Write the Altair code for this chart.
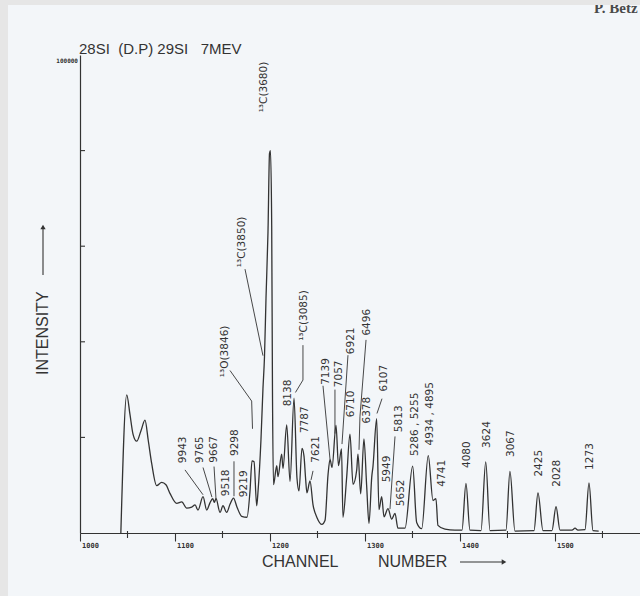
import altair as alt
import pandas as pd

# 28Si(d,p)29Si proton spectrum, 7 MeV: channel vs. counts
channel = [
    1043.0, 1049.2, 1052.6, 1055.8, 1059.7, 1064.2, 1068.4, 1071.9, 1075.5, 1080.7,
    1086.0, 1090.5, 1094.7, 1101.8, 1107.1, 1112.3, 1117.6, 1121.1, 1124.2, 1129.5,
    1133.4, 1136.8, 1139.7, 1141.4, 1143.2, 1147.4, 1150.5, 1154.4, 1157.9, 1161.6,
    1165.3, 1170.2, 1175.8, 1178.9, 1181.1, 1183.2, 1186.0, 1187.4, 1190.5, 1192.6,
    1194.2, 1195.8, 1197.9, 1199.5, 1200.5, 1201.8, 1202.6, 1203.7, 1207.1, 1208.4,
    1212.3, 1213.7, 1217.6, 1221.1, 1225.3, 1228.4, 1230.5, 1233.7, 1235.8, 1237.4,
    1238.9, 1242.1, 1245.3, 1249.5, 1254.7, 1257.9, 1261.1, 1263.2, 1265.3, 1269.5,
    1272.1, 1275.3, 1276.8, 1280.7, 1284.2, 1287.4, 1291.3, 1292.6, 1295.5, 1298.9,
    1301.8, 1304.2, 1307.1, 1308.4, 1312.3, 1314.7, 1317.6, 1320.0, 1324.2, 1328.1,
    1331.6, 1334.7, 1342.1, 1350.2, 1354.4, 1359.7, 1366.6, 1371.6, 1374.7, 1376.8,
    1384.2, 1394.7, 1402.1, 1406.3, 1410.5, 1422.1, 1427.1, 1431.6, 1448.4, 1452.6,
    1457.9, 1477.9, 1482.1, 1487.4, 1496.8, 1501.1, 1505.3, 1517.9, 1521.1, 1524.2,
    1531.6, 1535.8, 1540.0, 1546.0,
]
counts = [
    0, 28900, 24800, 20700, 19200, 21400, 23600, 19300, 14500, 9900,
    10600, 10100, 8300, 6200, 6500, 5200, 5400, 5900, 4800, 7600,
    4800, 6300, 7200, 6400, 7200, 4300, 5700, 4300, 6000, 7300,
    5400, 3500, 3300, 8600, 15100, 14900, 5700, 8700, 19500, 30200,
    36800, 49100, 63000, 79400, 80000, 64300, 30200, 10100, 14100, 11800,
    16500, 13500, 22600, 10800, 28200, 11500, 8800, 17700, 16100, 11600,
    8400, 10900, 5900, 3200, 1800, 2600, 12200, 15400, 13700, 22500,
    14100, 17600, 3300, 11600, 20700, 10200, 13200, 16500, 8200, 19700,
    9700, 2000, 11700, 13900, 23900, 4900, 7600, 3400, 5100, 2900,
    4100, 1000, 1000, 14000, 2200, 900, 16200, 6800, 7200, 1600,
    800, 600, 600, 10400, 600, 500, 14900, 500, 600, 12900,
    400, 500, 8400, 500, 500, 5500, 600, 600, 1000, 600,
    700, 10500, 500, 400,
]

# Peak annotations (excitation energies in keV, contaminant lines)
label_text = [
    "9943", "9765", "9667", "9518", "9298", "9219", "¹³O(3846)", "¹³C(3850)",
    "¹³C(3680)", "8138", "¹³C(3085)", "7787", "7621", "7139", "7057", "6921",
    "6710", "6496", "6378", "6107", "5949", "5813", "5652", "5286 , 5255",
    "4934 , 4895", "4741", "4080", "3624", "3067", "2425", "2028", "1273",
]
label_channel = [
    1108.4, 1126.3, 1141.1, 1153.7, 1163.2, 1172.6, 1152.6, 1170.5,
    1193.7, 1218.9, 1235.8, 1236.8, 1248.4, 1258.9, 1272.6, 1285.3,
    1285.3, 1302.1, 1302.1, 1320.0, 1323.2, 1335.8, 1337.9, 1352.6,
    1368.4, 1381.1, 1407.4, 1428.4, 1453.7, 1483.2, 1502.1, 1536.8,
]
label_counts = [
    14600, 14600, 14700, 7700, 16100, 7500, 32600, 55600,
    88000, 26500, 40200, 20900, 14700, 31000, 30500, 37400,
    24200, 41300, 22900, 29600, 10600, 21100, 5600, 16100,
    18300, 9700, 13600, 17800, 15900, 11800, 9700, 13200,
]

# Leader lines from labels down to their peaks
lead_ch_from = [1110.5, 1129.5, 1141.1, 1162.1, 1157.9, 1180.7, 1173.7, 1234.7,
                1234.7, 1245.3, 1255.8, 1268.4, 1282.1, 1301.1, 1294.7, 1317.9, 1331.6]
lead_counts_from = [13200, 13700, 13900, 15000, 34000, 27600, 55200, 39300,
                    32000, 13000, 30800, 30000, 37200, 40400, 24300, 28100, 20200]
lead_ch_to = [1129.5, 1138.9, 1143.2, 1162.1, 1180.7, 1181.6, 1192.6, 1234.7,
              1226.8, 1243.2, 1263.2, 1268.4, 1275.8, 1294.7, 1293.7, 1312.6, 1326.3]
lead_counts_to = [8000, 7500, 7000, 7700, 27600, 21800, 37100, 32000,
                  29400, 11100, 15400, 20800, 18600, 24300, 17400, 25000, 5000]

major_ticks = [1000, 1100, 1200, 1300, 1400, 1500]
minor_ticks = [1050, 1150, 1250, 1350, 1450, 1550]
y_ticks = [20000, 40000, 60000, 80000]
y_top = [100000]

NB = "\u00a0"  # keeps the wide gaps of the plotter lettering
TITLE = "28SI" + NB * 2 + "(D.P)" + NB + "29SI" + NB * 3 + "7MEV"

W, H = 560, 478
INK = "#333333"
PAPER = "#f3f6f9"
BORDER = "#e6e6e6"
LABEL_FONT = "DejaVu Sans"
TICK_FONT = "DejaVu Sans Mono"
TITLE_FONT = "Liberation Sans"

xs = alt.Scale(domain=[1000, 1589.5], nice=False, zero=False)
ys = alt.Scale(domain=[0, 100000], nice=False)
x_axis = alt.Axis(values=major_ticks, tickSize=8, labels=False, title=None, grid=False,
                  domainColor=INK, tickColor=INK, domainWidth=1.2, tickWidth=1.1, zindex=1)
y_axis = alt.Axis(labels=False, ticks=False, title=None, grid=False,
                  domainColor=INK, domainWidth=1.2, zindex=1)


def X(field):
    return alt.X(field, type="quantitative", scale=xs, axis=x_axis)


def Y(field):
    return alt.Y(field, type="quantitative", scale=ys, axis=y_axis)


one = alt.Data(values=[{"k": 0}])

spectrum = pd.DataFrame({"channel": channel, "counts": counts})
labels = pd.DataFrame({"text": label_text, "ch": label_channel, "c": label_counts})
leaders = pd.DataFrame({"ch1": lead_ch_from, "c1": lead_counts_from,
                        "ch2": lead_ch_to, "c2": lead_counts_to})

paper = alt.Chart(one).mark_rect(color=PAPER).encode(
    x=alt.value(-72), x2=alt.value(W), y=alt.value(-51), y2=alt.value(H + 63))

line = alt.Chart(spectrum).mark_line(color=INK, strokeWidth=1.3, interpolate="monotone").encode(
    x=X("channel"), y=Y("counts"), order="channel:Q")

leader = alt.Chart(leaders).mark_rule(color=INK, strokeWidth=0.9).encode(
    x=X("ch1"), x2="ch2", y=Y("c1"), y2="c2")

peak_labels = alt.Chart(labels).mark_text(
    angle=270, align="left", baseline="middle", font=LABEL_FONT, fontSize=10.5, color=INK
).encode(x=X("ch"), y=Y("c"), text="text:N")

y_tick_marks = alt.Chart(pd.DataFrame({"v": y_ticks})).mark_rule(color=INK, strokeWidth=1.1).encode(
    y=Y("v"), x=alt.value(0), x2=alt.value(5))

x_minor = alt.Chart(pd.DataFrame({"v": minor_ticks})).mark_rule(color=INK, strokeWidth=1.1).encode(
    x=X("v"), y=alt.value(H - 2), y2=alt.value(H + 5))

x_tick_labels = alt.Chart(pd.DataFrame({"v": major_ticks})).mark_text(
    align="left", baseline="alphabetic", dx=2, font=TICK_FONT, fontWeight="bold",
    fontSize=7, color=INK
).encode(x=X("v"), y=alt.value(H + 15), text=alt.Text("v:Q", format="d"))

y_top_label = alt.Chart(pd.DataFrame({"v": y_top})).mark_text(
    align="right", baseline="middle", dx=-2, dy=6, font=TICK_FONT, fontWeight="bold",
    fontSize=6, color=INK
).encode(y=Y("v"), x=alt.value(0), text=alt.Text("v:Q", format="d"))

title = alt.Chart(one).mark_text(
    align="left", baseline="alphabetic", font=TITLE_FONT, fontSize=15, color=INK
).encode(x=alt.value(-1), y=alt.value(-1), text=alt.value(TITLE))

y_title = alt.Chart(one).mark_text(
    angle=270, align="left", baseline="middle", font=TITLE_FONT, fontSize=16, color=INK
).encode(x=alt.value(-37), y=alt.value(320), text=alt.value("INTENSITY"))

y_arrow = alt.Chart(one).mark_rule(color=INK, strokeWidth=1.1).encode(
    x=alt.value(-37), y=alt.value(220), y2=alt.value(172))
y_head = alt.Chart(one).mark_point(shape="triangle-up", filled=True, size=28, color=INK, opacity=1).encode(
    x=alt.value(-37), y=alt.value(172))

x_title_a = alt.Chart(one).mark_text(
    align="left", baseline="alphabetic", font=TITLE_FONT, fontSize=16, color=INK
).encode(x=alt.value(182), y=alt.value(512), text=alt.value("CHANNEL"))
x_title_b = alt.Chart(one).mark_text(
    align="left", baseline="alphabetic", font=TITLE_FONT, fontSize=16, color=INK
).encode(x=alt.value(298), y=alt.value(512), text=alt.value("NUMBER"))

x_arrow = alt.Chart(one).mark_rule(color=INK, strokeWidth=1.1).encode(
    x=alt.value(380), x2=alt.value(423), y=alt.value(507))
x_head = alt.Chart(one).mark_point(shape="triangle-right", filled=True, size=28, color=INK, opacity=1).encode(
    x=alt.value(424), y=alt.value(507))

author = alt.Chart(one).mark_text(
    align="left", baseline="alphabetic", font="Liberation Serif", fontSize=15,
    fontWeight="bold", color="#4a4a4a"
).encode(x=alt.value(514), y=alt.value(-42), text=alt.value("P. Betz"))

top_band = alt.Chart(one).mark_rect(color=BORDER).encode(
    x=alt.value(-80), x2=alt.value(W), y=alt.value(-55), y2=alt.value(-50))

chart = alt.layer(
    paper, line, leader, peak_labels, y_tick_marks, x_minor, x_tick_labels, y_top_label,
    title, y_title, y_arrow, y_head, x_title_a, x_title_b, x_arrow, x_head, author, top_band,
).properties(
    width=W, height=H,
    padding={"left": 80, "top": 55, "right": 0, "bottom": 63},
    autosize=alt.AutoSizeParams(type="none"),
    background=BORDER,
).configure_view(stroke=None)

chart.save("out.html", embed_options={"renderer": "svg", "actions": False})
